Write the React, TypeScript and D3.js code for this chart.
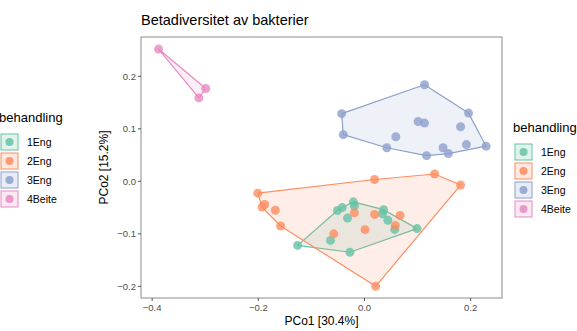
import React from 'react';
import * as d3 from 'd3';

const groups = ['1Eng', '2Eng', '3Eng', '4Beite'];
const colors = ['#66C2A5', '#FC8D62', '#8DA0CB', '#E78AC3'];

// PCo1, PCo2 per sample
const eng1: [number, number][] = [
  [-0.126, -0.122], [-0.064, -0.1125], [-0.051, -0.0555], [-0.042, -0.05],
  [-0.021, -0.039], [-0.019, -0.047], [-0.032, -0.07], [0.036, -0.054],
  [0.034, -0.062], [0.044, -0.074], [0.057, -0.0915], [0.099, -0.09],
  [-0.0275, -0.135]
];
const eng2: [number, number][] = [
  [-0.201, -0.0225], [-0.188, -0.044], [-0.193, -0.049], [-0.168, -0.055],
  [-0.158, -0.085], [0.019, 0.0035], [0.132, 0.014], [0.181, -0.007],
  [0.021, -0.2], [-0.019, -0.06], [0.019, -0.063], [0.067, -0.065],
  [0.058, -0.084], [0.001, -0.092], [-0.058, -0.1]
];
const eng3: [number, number][] = [
  [-0.043, 0.129], [-0.04, 0.089], [0.042, 0.064], [0.059, 0.085],
  [0.113, 0.184], [0.101, 0.114], [0.113, 0.111], [0.117, 0.049],
  [0.148, 0.064], [0.158, 0.053], [0.181, 0.104], [0.196, 0.13],
  [0.192, 0.07], [0.229, 0.067]
];
const beite4: [number, number][] = [
  [-0.388, 0.252], [-0.299, 0.177], [-0.312, 0.159]
];
const series = [eng1, eng2, eng3, beite4];

const xTicks = [-0.4, -0.2, 0.0, 0.2];
const yTicks = [-0.2, -0.1, 0.0, 0.1, 0.2];

const W = 577, H = 331;
const panel = { left: 141, right: 502, top: 37, bottom: 298 };

export default function App() {
  const x = d3.scaleLinear().domain([-0.421, 0.259]).range([panel.left, panel.right]);
  const y = d3.scaleLinear().domain([-0.2222, 0.275]).range([panel.bottom, panel.top]);
  const fmt = (v: number) => (Math.abs(v) < 1e-9 ? '0.0' : d3.format('.1f')(v)).replace('-', '\u2212');

  const legend = (lx: number, ly: number, tx: number) => (
    <g>
      <text x={tx} y={ly} fontSize={13} fill="#000">behandling</text>
      {groups.map((g, i) => {
        const by = ly + 12 + i * 19;
        return (
          <g key={g}>
            <rect x={lx} y={by} width={17} height={16} fill={colors[i]} fillOpacity={0.2}
              stroke={colors[i]} strokeWidth={1} />
            <circle cx={lx + 8.5} cy={by + 8} r={4} fill={colors[i]} fillOpacity={0.85} />
            <text x={lx + 26} y={by + 12} fontSize={10.5} fill="#000">{g}</text>
          </g>
        );
      })}
    </g>
  );

  return (
    <svg width={W} height={H} style={{ position: 'absolute', left: 0, top: 0, fontFamily: 'Liberation Sans, Arial, sans-serif' }}>
      <rect width={W} height={H} fill="#fff" />
      <text x={141} y={25} fontSize={14.5} fill="#000">Betadiversitet av bakterier</text>

      {series.map((pts, i) => {
        const hull = d3.polygonHull(pts.map(p => [x(p[0]), y(p[1])] as [number, number]));
        return hull ? (
          <path key={'h' + i} d={'M' + hull.join('L') + 'Z'} fill={colors[i]} fillOpacity={0.15}
            stroke={colors[i]} strokeWidth={1.2} strokeLinejoin="round" />
        ) : null;
      })}
      {series.map((pts, i) =>
        pts.map((p, j) => (
          <circle key={i + '-' + j} cx={x(p[0])} cy={y(p[1])} r={4.5} fill={colors[i]} fillOpacity={0.8} />
        ))
      )}

      <rect x={panel.left} y={panel.top} width={panel.right - panel.left} height={panel.bottom - panel.top}
        fill="none" stroke="#8c8c8c" strokeWidth={1} />
      {xTicks.map(t => (
        <g key={'x' + t}>
          <line x1={x(t)} x2={x(t)} y1={panel.bottom} y2={panel.bottom + 3} stroke="#555" />
          <text x={x(t)} y={panel.bottom + 13} fontSize={9.5} fill="#4D4D4D" textAnchor="middle">{fmt(t)}</text>
        </g>
      ))}
      {yTicks.map(t => (
        <g key={'y' + t}>
          <line x1={panel.left - 3} x2={panel.left} y1={y(t)} y2={y(t)} stroke="#555" />
          <text x={panel.left - 5} y={y(t) + 3.5} fontSize={9.5} fill="#4D4D4D" textAnchor="end">{fmt(t)}</text>
        </g>
      ))}
      <text x={(panel.left + panel.right) / 2} y={325} fontSize={12} fill="#000" textAnchor="middle">PCo1 [30.4%]</text>
      <text transform={`translate(108,${(panel.top + panel.bottom) / 2}) rotate(-90)`} fontSize={12} fill="#000"
        textAnchor="middle">PCo2 [15.2%]</text>

      {legend(515, 132, 513)}
      {legend(1, 122, -1)}
    </svg>
  );
}
